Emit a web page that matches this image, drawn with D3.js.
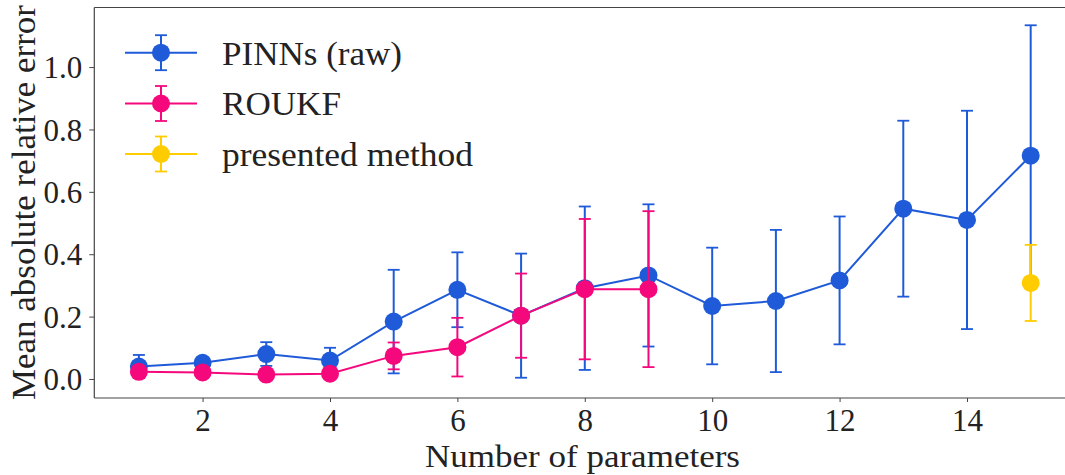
<!DOCTYPE html>
<html>
<head>
<meta charset="utf-8">
<script src="https://cdn.jsdelivr.net/npm/d3@7"></script>
<style>
  html, body { margin: 0; padding: 0; background: #fff; }
  svg { display: block; }
  text { font-family: "Liberation Serif", "DejaVu Serif", serif; fill: #222; }
</style>
</head>
<body>
<svg id="chart" width="1065" height="475"></svg>
<script>
// ---- data ----
const pinnX = [1, 2, 3, 4, 5, 6, 7, 8, 9, 10, 11, 12, 13, 14, 15];
const pinnMean = [0.040, 0.052, 0.080, 0.059, 0.184, 0.286, 0.203, 0.291, 0.332, 0.234, 0.250, 0.316, 0.546, 0.510, 0.716];
const pinnErr  = [0.037, 0.010, 0.038, 0.041, 0.166, 0.120, 0.199, 0.262, 0.228, 0.187, 0.228, 0.205, 0.282, 0.350, 0.418];

const roukfX = [1, 2, 3, 4, 5, 6, 7, 8, 9];
const roukfMean = [0.023, 0.021, 0.014, 0.017, 0.074, 0.102, 0.203, 0.288, 0.288];
const roukfErr  = [0.006, 0.005, 0.004, 0.005, 0.043, 0.094, 0.135, 0.225, 0.250];

const presX = [15];
const presMean = [0.308];
const presErr = [0.122];

const xTicks = [2, 4, 6, 8, 10, 12, 14];
const yTicks = [0.0, 0.2, 0.4, 0.6, 0.8, 1.0];
const legendLabels = ["PINNs (raw)", "ROUKF", "presented method"];
const seriesColors = ["#1f5ad8", "#f5087c", "#ffcc00"];

(function () {
const series = [
  { x: pinnX, m: pinnMean, e: pinnErr, color: seriesColors[0] },
  { x: roukfX, m: roukfMean, e: roukfErr, color: seriesColors[1] },
  { x: presX, m: presMean, e: presErr, color: seriesColors[2] }
];

// ---- layout ----
const svg = d3.select("#chart");
const mLeft = 94.3, mTop = 7.5, mBottom = 398;
const x = d3.scaleLinear().domain([0.3, 15.7]).range([mLeft, mLeft + 15.4 * 63.7]);
const y = d3.scaleLinear().domain([-0.061, 1.191]).range([mBottom, mTop]);

const fs = 31;

// axes
const xAxis = svg.append("g").attr("transform", `translate(0,${mBottom})`)
  .call(d3.axisBottom(x).tickValues(xTicks).tickFormat(d3.format("d")).tickSize(4).tickPadding(6));
const yAxis = svg.append("g").attr("transform", `translate(${mLeft},0)`)
  .call(d3.axisLeft(y).tickValues(yTicks).tickFormat(d3.format(".1f")).tickSize(5).tickPadding(7));
[xAxis, yAxis].forEach(g => {
  g.select(".domain").remove();
  g.selectAll(".tick line").attr("stroke", "#444").attr("stroke-width", 1);
  g.selectAll(".tick text").attr("font-size", fs).attr("fill", "#222")
    .style("font-family", '"Liberation Serif", serif');
});
xAxis.selectAll(".tick text").attr("dy", "0.74em");
yAxis.selectAll(".tick text").attr("dy", "0.34em");

// frame
const frame = svg.append("g").attr("fill", "none").attr("stroke", "#444").attr("stroke-width", 1.2);
frame.append("line").attr("x1", mLeft).attr("x2", 1065).attr("y1", mTop).attr("y2", mTop);
frame.append("line").attr("x1", mLeft).attr("x2", 1065).attr("y1", mBottom).attr("y2", mBottom);
frame.append("line").attr("x1", mLeft).attr("x2", mLeft).attr("y1", mTop).attr("y2", mBottom);

// axis labels
svg.append("text").attr("x", 582.5).attr("y", 467)
  .attr("text-anchor", "middle").attr("font-size", 32)
  .attr("textLength", 315).attr("lengthAdjust", "spacingAndGlyphs")
  .text("Number of parameters");
svg.append("text").attr("transform", `translate(35,202.5) rotate(-90)`)
  .attr("text-anchor", "middle").attr("font-size", 34)
  .attr("textLength", 395).attr("lengthAdjust", "spacingAndGlyphs")
  .text("Mean absolute relative error");

// series
const capW = 6;
const plot = svg.append("g");
series.forEach(s => {
  const g = plot.append("g");
  const pts = s.x.map((xv, i) => ({ x: xv, m: s.m[i], e: s.e[i] }));
  if (pts.length > 1) {
    g.append("path").datum(pts)
      .attr("fill", "none").attr("stroke", s.color).attr("stroke-width", 2)
      .attr("d", d3.line().x(d => x(d.x)).y(d => y(d.m)));
  }
  const eb = g.append("g").attr("stroke", s.color).attr("stroke-width", 2);
  eb.selectAll(".bar").data(pts).join("line")
    .attr("x1", d => x(d.x)).attr("x2", d => x(d.x))
    .attr("y1", d => y(d.m - d.e)).attr("y2", d => y(d.m + d.e));
  eb.selectAll(".capTop").data(pts).join("line")
    .attr("x1", d => x(d.x) - capW).attr("x2", d => x(d.x) + capW)
    .attr("y1", d => y(d.m + d.e)).attr("y2", d => y(d.m + d.e)).attr("stroke-width", 1.8);
  eb.selectAll(".capBot").data(pts).join("line")
    .attr("x1", d => x(d.x) - capW).attr("x2", d => x(d.x) + capW)
    .attr("y1", d => y(d.m - d.e)).attr("y2", d => y(d.m - d.e)).attr("stroke-width", 1.8);
  g.selectAll("circle").data(pts).join("circle")
    .attr("cx", d => x(d.x)).attr("cy", d => y(d.m)).attr("r", 9)
    .attr("fill", s.color);
});

// legend
const legend = svg.append("g");
const rowY = [52.7, 103.5, 154];
const legendWidths = [180, 119, 251];
legendLabels.forEach((lab, i) => {
  const c = seriesColors[i];
  const g = legend.append("g").attr("transform", `translate(0,${rowY[i]})`);
  g.append("line").attr("x1", 125).attr("x2", 197).attr("y1", 0).attr("y2", 0)
    .attr("stroke", c).attr("stroke-width", 2);
  g.append("line").attr("x1", 161).attr("x2", 161).attr("y1", -17.5).attr("y2", 17.5)
    .attr("stroke", c).attr("stroke-width", 2);
  [-17.5, 17.5].forEach(yy => g.append("line").attr("x1", 161 - capW).attr("x2", 161 + capW)
    .attr("y1", yy).attr("y2", yy).attr("stroke", c).attr("stroke-width", 1.8));
  g.append("circle").attr("cx", 161).attr("cy", 0).attr("r", 9).attr("fill", c);
  g.append("text").attr("x", 222).attr("y", 0).attr("dy", "0.36em")
    .attr("font-size", 33)
    .attr("textLength", legendWidths[i]).attr("lengthAdjust", "spacingAndGlyphs")
    .text(lab);
});
})();
</script>
</body>
</html>
